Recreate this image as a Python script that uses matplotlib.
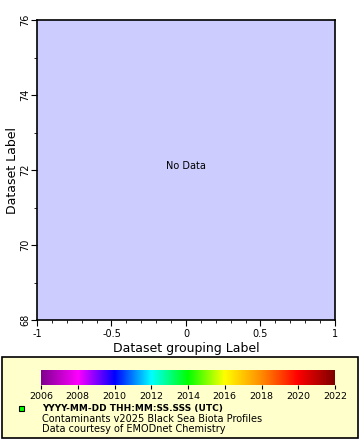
import matplotlib
matplotlib.use("Agg")
import matplotlib.pyplot as plt
import numpy as np
from matplotlib.colors import LinearSegmentedColormap
from matplotlib.patches import Rectangle

x_label = "Dataset grouping Label"
y_label = "Dataset Label"
x_ticks = [-1, -0.5, 0, 0.5, 1]
x_tick_labels = ["-1", "-0.5", "0", "0.5", "1"]
y_ticks = [68, 70, 72, 74, 76]
cbar_ticks = [2006, 2008, 2010, 2012, 2014, 2016, 2018, 2020, 2022]
cbar_colors = ["#800090", "#ff00ff", "#0000ff", "#00ffff", "#00ff00",
               "#ffff00", "#ff8c00", "#ff0000", "#800000"]
legend_lines = ["YYYY-MM-DD THH:MM:SS.SSS (UTC)",
                "Contaminants v2025 Black Sea Biota Profiles",
                "Data courtesy of EMODnet Chemistry"]

W, H = 360, 440
fig = plt.figure(figsize=(W / 100, H / 100), dpi=100)

ax = fig.add_axes([37 / W, 1 - 320 / H, (335 - 37) / W, 300 / H])
ax.set_facecolor("#ccccff")
ax.set_xlim(-1, 1)
ax.set_ylim(68, 76)
ax.set_xticks(x_ticks)
ax.set_xticklabels(x_tick_labels)
ax.set_xticks(np.arange(-1, 1.0001, 0.1), minor=True)
ax.set_yticks(y_ticks)
ax.set_yticks(np.arange(68, 76.01, 1), minor=True)
ax.tick_params(axis="both", which="major", length=4, labelsize=7, width=0.8)
ax.tick_params(axis="x", which="major", pad=2.5)
ax.tick_params(axis="y", which="major", pad=1)
ax.tick_params(axis="both", which="minor", length=2, width=0.6)
for lab in ax.get_yticklabels():
    lab.set_rotation(90)
    lab.set_va("center")
for s in ax.spines.values():
    s.set_linewidth(1.2)
ax.set_xlabel(x_label, fontsize=9, labelpad=2)
ax.set_ylabel(y_label, fontsize=9, labelpad=1)
ax.text(0, 72.1, "No Data", ha="center", va="center", fontsize=7)

# legend box
lax = fig.add_axes([0, 0, 1, 1], zorder=-1)
lax.set_xlim(0, W)
lax.set_ylim(H, 0)
lax.axis("off")
lax.add_patch(Rectangle((1.5, 357), 356, 81, facecolor="#ffffcc", edgecolor="black", lw=1.2))
lax.add_patch(Rectangle((18.5, 406), 5, 5, facecolor="#00ff00", edgecolor="black", lw=0.8))
lax.text(42, 408.5, legend_lines[0], fontsize=6.5, fontweight="bold", va="center", ha="left")
lax.text(42, 418.5, legend_lines[1], fontsize=7, va="center", ha="left")
lax.text(42, 428.5, legend_lines[2], fontsize=7, va="center", ha="left")

# colorbar
cmap = LinearSegmentedColormap.from_list("c", list(zip(np.linspace(0, 1, len(cbar_colors)), cbar_colors)))
cax = fig.add_axes([41 / W, 1 - 385 / H, (335 - 41) / W, 15 / H])
grad = np.linspace(cbar_ticks[0], cbar_ticks[-1], 512).reshape(1, -1)
cax.imshow(grad, aspect="auto", cmap=cmap, extent=[cbar_ticks[0], cbar_ticks[-1], 0, 1])
cax.set_xlim(cbar_ticks[0], cbar_ticks[-1])
cax.set_yticks([])
cax.set_xticks(cbar_ticks)
cax.tick_params(axis="x", length=3, labelsize=6.8, pad=2, width=0.8)
for s in cax.spines.values():
    s.set_visible(False)

fig.savefig("out.png", dpi=100)
